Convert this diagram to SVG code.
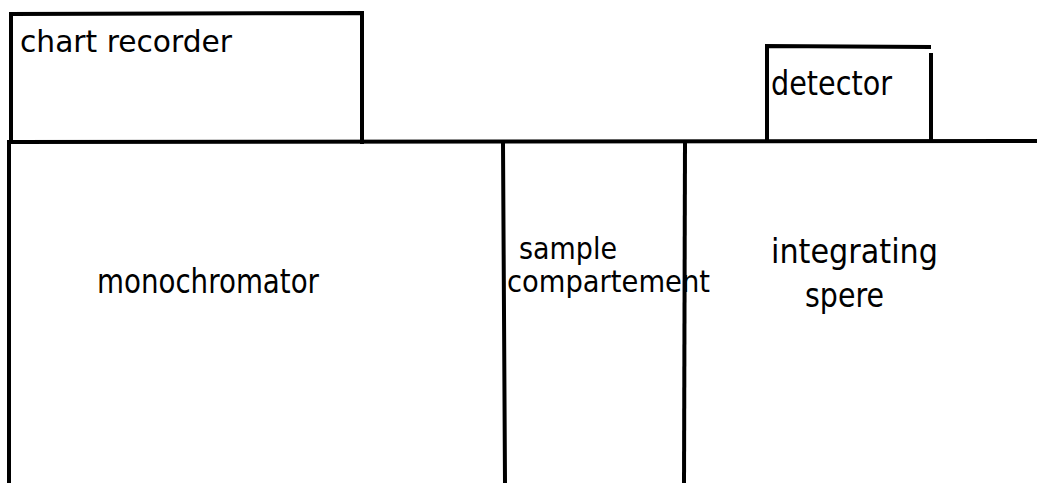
<svg xmlns="http://www.w3.org/2000/svg" width="1037" height="483" viewBox="0 0 1037 483">
<style>
.ln{stroke:#000;stroke-width:4;fill:none;stroke-linecap:square}
.t{font-family:"DejaVu Sans","Liberation Sans",sans-serif;fill:#000}
</style>
<rect width="1037" height="483" fill="#fff"/>
<g id="chart-recorder">
<path class="ln" d="M11,142 L11,14 L362,13 L362,142"/>
<text class="t" x="20" y="52" font-size="30" textLength="212" lengthAdjust="spacingAndGlyphs">chart recorder</text>
</g>
<g id="detector">
<path class="ln" d="M767,141 L767,46 L929,47"/>
<path class="ln" d="M931,55 L931,141"/>
<text class="t" x="771" y="95" font-size="33" textLength="121" lengthAdjust="spacingAndGlyphs">detector</text>
</g>
<g id="monochromator">
<path class="ln" d="M9,143 L9,483"/>
<text class="t" x="97" y="293" font-size="34" textLength="222" lengthAdjust="spacingAndGlyphs">monochromator</text>
</g>
<g id="sample-compartement">
<path class="ln" d="M503,143 L505,483"/>
<path class="ln" d="M685,143 L684,483"/>
<text class="t" x="519" y="259" font-size="31" textLength="98" lengthAdjust="spacingAndGlyphs">sample</text>
<text class="t" x="507" y="292" font-size="31" textLength="203" lengthAdjust="spacingAndGlyphs">compartement</text>
</g>
<g id="integrating-spere">
<text class="t" x="771" y="263" font-size="34" textLength="167" lengthAdjust="spacingAndGlyphs">integrating</text>
<text class="t" x="805" y="307" font-size="34" textLength="79" lengthAdjust="spacingAndGlyphs">spere</text>
</g>
<g id="connectors">
<path class="ln" d="M9,142 L1037,141"/>
</g>
</svg>
